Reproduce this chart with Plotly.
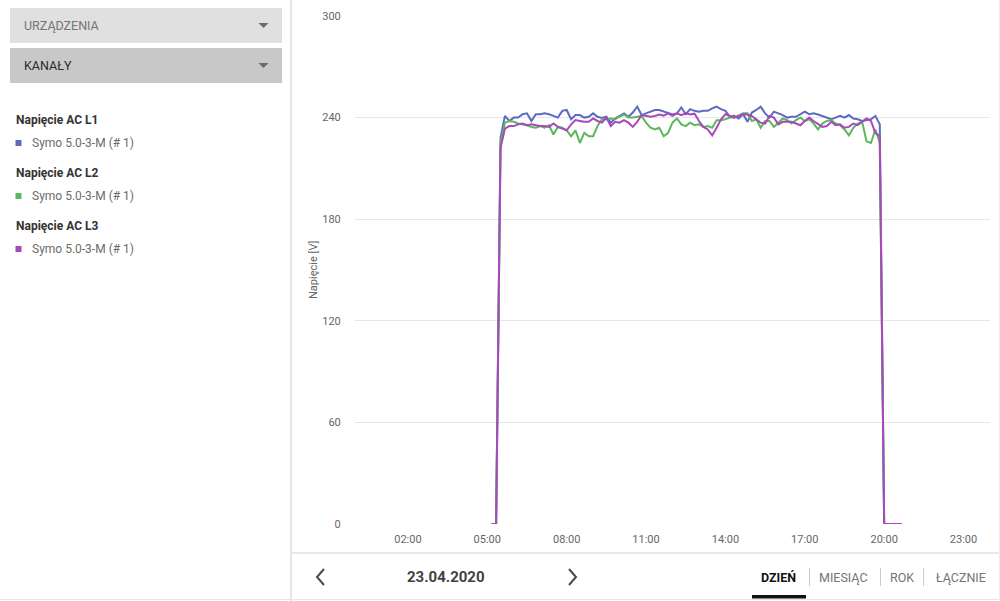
import plotly.graph_objects as go

# ---------------- data ----------------
DAY = "2020-04-23"
TIMES = [
    "05:10", "05:20", "05:30", "05:40", "05:50",
    "06:00", "06:10", "06:20", "06:30", "06:40", "06:50",
    "07:00", "07:10", "07:20", "07:30", "07:40", "07:50",
    "08:00", "08:10", "08:20", "08:30", "08:40", "08:50",
    "09:00", "09:10", "09:20", "09:30", "09:40", "09:50",
    "10:00", "10:10", "10:20", "10:30", "10:40", "10:50",
    "11:00", "11:10", "11:20", "11:30", "11:40", "11:50",
    "12:00", "12:10", "12:20", "12:30", "12:40", "12:50",
    "13:00", "13:10", "13:20", "13:30", "13:40", "13:50",
    "14:00", "14:10", "14:20", "14:30", "14:40", "14:50",
    "15:00", "15:10", "15:20", "15:30", "15:40", "15:50",
    "16:00", "16:10", "16:20", "16:30", "16:40", "16:50",
    "17:00", "17:10", "17:20", "17:30", "17:40", "17:50",
    "18:00", "18:10", "18:20", "18:30", "18:40", "18:50",
    "19:00", "19:10", "19:20", "19:30", "19:40", "19:50",
    "20:00", "20:10", "20:20", "20:30", "20:40",
]

L1 = [
    0, 0, 228, 241, 238,
    240, 240, 242, 242.5, 238, 242,
    242, 242.5, 242, 241, 240, 244,
    244.5, 239, 241.5, 241.5, 240, 240.5,
    242.5, 240.5, 239.8, 240.5, 237, 239.5,
    241, 242.5, 240.5, 243, 246.5, 241.5,
    242.5, 243.5, 244.5, 244.5, 243.5, 242.5,
    241.8, 242.5, 246, 242, 245, 244,
    243.5, 244, 244, 245.5, 246.5, 245,
    244, 240.5, 241, 239.5, 242, 237.5,
    243, 244.5, 246.5, 242.5, 240, 243.5,
    242.5, 241.5, 240, 240.5, 240.5, 242,
    243.5, 242, 242.5, 241.8, 240.8, 240,
    239, 240, 241, 240, 241.5, 239.5,
    239, 238, 238.5, 239, 241, 236,
    0, 0, 0, 0, 0,
]

L2 = [
    0, 0, 225, 237, 238,
    237.5, 236.5, 236, 235.5, 234.5, 234,
    235, 234, 235.5, 230, 234.5, 234,
    232.5, 229, 232.5, 225, 231, 229,
    229, 235, 239, 239, 239.5, 239,
    240.5, 241.8, 240, 240, 240.5, 241,
    237, 234, 233, 234, 229, 231,
    237, 239.5, 236, 235, 237, 235.5,
    236, 234.5, 235, 234, 238.5, 238.5,
    239, 240, 240, 241.5, 242.5, 242.5,
    238, 239, 234, 238, 238, 234.5,
    237, 239.5, 238.5, 236.5, 238.5, 240,
    238, 239, 236.5, 233, 236.5, 238,
    238.5, 236.5, 235.5, 233, 229.5, 234,
    236.5, 237.5, 226, 225, 233, 225,
    0, 0, 0, 0, 0,
]

L3 = [
    0, 0, 222, 233.5, 235,
    235, 236, 236.5, 235.5, 236, 235.5,
    235, 235, 234.5, 236.5, 234.5, 233.5,
    232.5, 236, 238.5, 238, 237.5, 237.5,
    239.5, 238, 237, 240, 235, 237.5,
    237, 238.5, 237, 234.5, 237.5, 241.5,
    241, 240.5, 241, 241.8, 241.2, 242.5,
    241, 242.5, 241.5, 242.5, 241.8, 242.3,
    238, 234.5, 233, 229.5, 234, 239,
    242, 241, 240, 241, 242, 241.8,
    240.8, 239, 237, 236.5, 241, 240,
    236, 237.5, 237.5, 237.5, 236.5, 235.5,
    238, 240, 238, 236, 234.5, 235,
    237.5, 235.5, 236, 234, 234.5, 236.5,
    235.5, 237.5, 239.5, 238, 231, 229,
    0, 0, 0, 0, 0,
]

SERIES_TITLES = ["Napięcie AC L1", "Napięcie AC L2", "Napięcie AC L3"]
DEVICE_NAME = "Symo 5.0-3-M (# 1)"
SERIES_COLORS = ["#5c6bc0", "#5cb85c", "#ab47bc"]
SERIES_VALUES = [L1, L2, L3]

X_TICKS = ["02:00", "05:00", "08:00", "11:00", "14:00", "17:00", "20:00", "23:00"]
Y_TICKS = [0, 60, 120, 180, 240, 300]
Y_TITLE = "Napięcie [V]"
DATE_LABEL = "23.04.2020"
PERIODS = ["DZIEŃ", "MIESIĄC", "ROK", "ŁĄCZNIE"]
DROPDOWNS = ["URZĄDZENIA", "KANAŁY"]

# ---------------- layout geometry ----------------
W, H = 1000, 601
ML, MR, MT, MB = 355, 10, 16, 77
PW, PH = W - ML - MR, H - MT - MB
FONT = "Roboto"


def px(x):
    return (x - ML) / PW


def py(y):
    return (H - MB - y) / PH


xs = [f"{DAY} {t}" for t in TIMES]

fig = go.Figure()
for title, vals, col in zip(SERIES_TITLES, SERIES_VALUES, SERIES_COLORS):
    fig.add_trace(go.Scatter(x=xs, y=vals, mode="lines", name=title,
                             line=dict(color=col, width=2), showlegend=False))

shapes = []
annotations = []

# panel borders
shapes.append(dict(type="line", xref="paper", yref="paper", x0=px(291), x1=px(291),
                   y0=py(0), y1=py(601), line=dict(color="#e6e6e6", width=2)))
shapes.append(dict(type="line", xref="paper", yref="paper", x0=px(292), x1=px(1000),
                   y0=py(553), y1=py(553), line=dict(color="#e8e8e8", width=2)))
shapes.append(dict(type="line", xref="paper", yref="paper", x0=px(0), x1=px(1000),
                   y0=py(599.5), y1=py(599.5), line=dict(color="#e6e6e6", width=1)))
shapes.append(dict(type="line", xref="paper", yref="paper", x0=px(999.5), x1=px(999.5),
                   y0=py(0), y1=py(601), line=dict(color="#eeeeee", width=1)))

# dropdowns
dd_boxes = [(8, 43, "#e0e0e0", "#757575"), (48, 83, "#c8c8c8", "#2b2b2b")]
for text, (top, bot, fill, tcol) in zip(DROPDOWNS, dd_boxes):
    shapes.append(dict(type="rect", xref="paper", yref="paper", x0=px(10), x1=px(282),
                       y0=py(bot), y1=py(top), fillcolor=fill, line=dict(width=0), layer="below"))
    cy = (top + bot) / 2
    shapes.append(dict(type="path", xref="paper", yref="paper",
                       path=f"M {px(258.5)},{py(cy - 2.5)} L {px(268.5)},{py(cy - 2.5)} L {px(263.5)},{py(cy + 2.5)} Z",
                       fillcolor="#6b6b6b", line=dict(width=0)))
    annotations.append(dict(text=text, xref="paper", yref="paper", x=px(21.5), y=py(cy),
                            xanchor="left", yanchor="middle", showarrow=False,
                            font=dict(family=FONT, size=12.5, color=tcol)))

# custom legend
leg_title_y = [120, 173, 226]
for title, col, ty in zip(SERIES_TITLES, SERIES_COLORS, leg_title_y):
    annotations.append(dict(text=f"<b>{title}</b>", xref="paper", yref="paper", x=px(13.5), y=py(ty),
                            xanchor="left", yanchor="middle", showarrow=False,
                            font=dict(family=FONT, size=12, color="#333333")))
    sy = ty + 23
    shapes.append(dict(type="rect", xref="paper", yref="paper", x0=px(15.5), x1=px(21.5),
                       y0=py(sy + 3), y1=py(sy - 3), fillcolor=col, line=dict(width=0)))
    annotations.append(dict(text=DEVICE_NAME, xref="paper", yref="paper", x=px(29.5), y=py(sy),
                            xanchor="left", yanchor="middle", showarrow=False,
                            font=dict(family=FONT, size=12, color="#6b6b6b")))

# y axis title
annotations.append(dict(text=Y_TITLE, xref="paper", yref="paper", x=px(313), y=py(270),
                        xanchor="center", yanchor="middle", textangle=-90, showarrow=False,
                        font=dict(family=FONT, size=11, color="#666666")))

# bottom navigation
annotations.append(dict(text=f"<b>{DATE_LABEL}</b>", xref="paper", yref="paper", x=px(446), y=py(577),
                        xanchor="center", yanchor="middle", showarrow=False,
                        font=dict(family=FONT, size=15, color="#424242")))
# left chevron "<"
shapes.append(dict(type="path", xref="paper", yref="paper",
                   path=f"M {px(324)},{py(569)} L {px(317)},{py(577)} L {px(324)},{py(585)}",
                   line=dict(color="#4a4a4a", width=2)))
# right chevron ">"
shapes.append(dict(type="path", xref="paper", yref="paper",
                   path=f"M {px(569)},{py(569)} L {px(576)},{py(577)} L {px(569)},{py(585)}",
                   line=dict(color="#4a4a4a", width=2)))

period_x = [778, 843, 902, 961]
for i, (label, cx) in enumerate(zip(PERIODS, period_x)):
    txt = f"<b>{label}</b>" if i == 0 else label
    annotations.append(dict(text=txt, xref="paper", yref="paper", x=px(cx), y=py(577),
                            xanchor="center", yanchor="middle", showarrow=False,
                            font=dict(family=FONT, size=12.5, color="#111111" if i == 0 else "#757575")))
for sx in [809.5, 880.5, 923.5]:
    shapes.append(dict(type="line", xref="paper", yref="paper", x0=px(sx), x1=px(sx),
                       y0=py(586), y1=py(568), line=dict(color="#cccccc", width=1)))
shapes.append(dict(type="rect", xref="paper", yref="paper", x0=px(752), x1=px(806),
                   y0=py(598.5), y1=py(595), fillcolor="#111111", line=dict(width=0)))

fig.update_layout(
    width=W, height=H,
    margin=dict(l=ML, r=MR, t=MT, b=MB, pad=0),
    paper_bgcolor="white", plot_bgcolor="white",
    showlegend=False,
    font=dict(family=FONT, size=11, color="#666666"),
    shapes=shapes, annotations=annotations,
    xaxis=dict(type="date", range=[f"{DAY} 00:00", "2020-04-24 00:00"],
               tickvals=[f"{DAY} {t}" for t in X_TICKS], ticktext=X_TICKS,
               showgrid=False, zeroline=False, showline=False,
               ticks="outside", ticklen=5, tickcolor="rgba(0,0,0,0)",
               tickfont=dict(family=FONT, size=11, color="#666666")),
    yaxis=dict(range=[0, 300], tickvals=Y_TICKS, ticktext=[str(v) for v in Y_TICKS],
               showgrid=True, gridcolor="#e6e6e6", gridwidth=1,
               zeroline=False, showline=False,
               ticks="outside", ticklen=11, tickcolor="rgba(0,0,0,0)",
               tickfont=dict(family=FONT, size=11, color="#666666")),
)

fig.write_html("out.html")
